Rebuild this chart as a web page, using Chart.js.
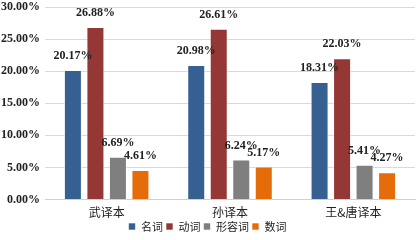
<html>
<head>
    <meta charset="utf-8">
    <script src="https://cdn.jsdelivr.net/npm/chart.js@4.4.0/dist/chart.umd.min.js"></script>
    <style>
        body { margin: 0; background: #fff; }
        #wrap { width: 419px; height: 240px; }
    </style>
</head>
<body>
    <div id="wrap"><canvas id="myChart" width="419" height="240"></canvas></div>
    <script>
        const categories = ['武译本', '孙译本', '王&唐译本'];
        const seriesNames = ['名词', '动词', '形容词', '数词'];
        const nounVals = [20.17, 20.98, 18.31];
        const verbVals = [26.88, 26.61, 22.03];
        const adjVals = [6.69, 6.24, 5.41];
        const numVals = [4.61, 5.17, 4.27];
        const yTicks = [0, 5, 10, 15, 20, 25, 30];

        const COLORS = ['#376092', '#953735', '#7f7f7f', '#e46c0a'];
        const SERIF = "'Liberation Serif', 'Times New Roman', serif";
        const CJK = "'Noto Sans CJK SC', sans-serif";

        // draw value labels above each bar
        const valueLabels = {
            id: 'valueLabels',
            afterDatasetsDraw(chart) {
                const c = chart.ctx;
                c.save();
                c.font = 'bold 12px ' + SERIF;
                c.fillStyle = '#222';
                c.textAlign = 'center';
                c.textBaseline = 'bottom';
                chart.data.datasets.forEach((ds, i) => {
                    chart.getDatasetMeta(i).data.forEach((bar, j) => {
                        c.fillText(ds.data[j].toFixed(2) + '%', bar.x, bar.y - 8);
                    });
                });
                c.restore();
            }
        };

        const allVals = [nounVals, verbVals, adjVals, numVals];
        const data = {
            labels: categories,
            datasets: seriesNames.map((name, i) => ({
                label: name,
                data: allVals[i],
                backgroundColor: COLORS[i],
                borderColor: 'rgba(255,255,255,0.6)',
                borderWidth: 1,
                categoryPercentage: 0.73,
                barPercentage: 0.8
            }))
        };

        const config = {
            type: 'bar',
            data: data,
            options: {
                responsive: false,
                animation: false,
                layout: { padding: { top: 0, right: 4, left: 0, bottom: -2 } },
                plugins: {
                    legend: {
                        position: 'bottom',
                        labels: {
                            boxWidth: 7,
                            boxHeight: 7,
                            padding: 3,
                            color: '#222',
                            font: { family: CJK, size: 11 }
                        }
                    },
                    tooltip: { enabled: false }
                },
                scales: {
                    x: {
                        grid: { display: false },
                        border: { color: '#d0d0d0' },
                        ticks: { color: '#222', font: { family: CJK, size: 12 }, padding: -2 }
                    },
                    y: {
                        min: 0,
                        max: 30,
                        afterBuildTicks: axis => { axis.ticks = yTicks.map(v => ({ value: v })); },
                        afterFit: axis => { axis.width = 45; axis.paddingTop = 7; },
                        grid: { color: '#d9d9d9', drawTicks: false },
                        border: { display: false },
                        ticks: {
                            color: '#222',
                            padding: 5,
                            font: { family: SERIF, size: 12, weight: 'bold' },
                            callback: v => v.toFixed(2) + '%'
                        }
                    }
                }
            },
            plugins: [valueLabels]
        };

        const myChart = new Chart(document.getElementById('myChart'), config);
    </script>
</body>
</html>
